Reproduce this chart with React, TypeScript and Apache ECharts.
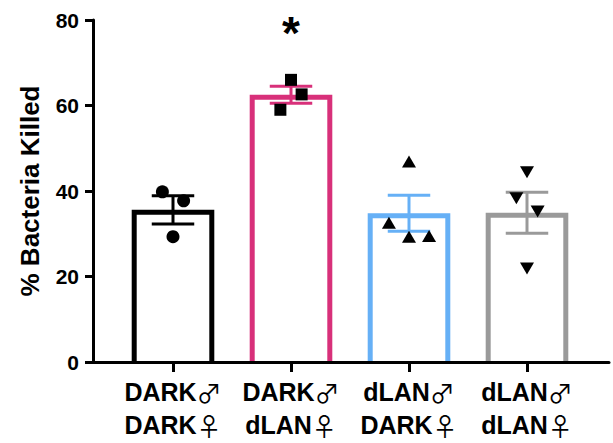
import React, { useEffect, useRef } from "react";
import * as echarts from "echarts";

const categories = ["DARK♂\nDARK♀", "DARK♂\ndLAN♀", "dLAN♂\nDARK♀", "dLAN♂\ndLAN♀"];
const means = [35.6, 62.5, 34.8, 34.9];
const sems = [3.3, 2.0, 4.2, 4.8];
const significance = ["", "*", "", ""];
const sigLevel = 77;

const darkDarkValues = [39.8, 37.7, 29.3];
const darkDarkJitter = [-0.09, 0.09, 0];
const darkDlanValues = [66.0, 62.6, 59.0];
const darkDlanJitter = [0, 0.09, -0.09];
const dlanDarkValues = [46.9, 32.6, 29.3, 29.5];
const dlanDarkJitter = [0, -0.17, 0, 0.17];
const dlanDlanValues = [44.4, 38.3, 35.2, 21.9];
const dlanDlanJitter = [0, -0.09, 0.09, 0];

const colors = ["#000000", "#d8307a", "#66b0f6", "#9a9a9a"];
const FONT = "Liberation Sans";

export default function App() {
  const ref = useRef<HTMLDivElement>(null);
  useEffect(() => {
    if (!ref.current) return;
    const chart = echarts.init(ref.current, null, { renderer: "svg" });
    const pts = (vals: number[], jit: number[], idx: number) =>
      vals.map((v, k) => [idx + jit[k], v]);
    const scatterBase = {
      type: "scatter",
      xAxisIndex: 2,
      yAxisIndex: 1,
      itemStyle: { color: "#000", opacity: 1 },
      z: 5,
    };
    const option: any = {
      animation: false,
      backgroundColor: "#fff",
      grid: [
        { left: 93, right: 4, top: 20, bottom: 81 },
        { left: 114, right: 27, top: 20, bottom: 81 },
      ],
      xAxis: [
        {
          type: "value",
          gridIndex: 0,
          min: 0,
          max: 1,
          z: 10,
          axisLine: { show: true, lineStyle: { color: "#000", width: 3 } },
          axisTick: { show: false },
          axisLabel: { show: false },
          splitLine: { show: false },
        },
        {
          type: "category",
          gridIndex: 1,
          data: categories,
          z: 10,
          axisLine: { show: false },
          axisTick: { show: true, alignWithLabel: true, length: 10, lineStyle: { color: "#000", width: 3 } },
          axisLabel: {
            margin: 13,
            formatter: (val: string) =>
              val
                .split("\n")
                .map((line) => `{b|${line.slice(0, -1)}}{s|${line.slice(-1)}}`)
                .join("\n"),
            rich: {
              b: { fontFamily: FONT, fontWeight: "bold", fontSize: 25, color: "#000", lineHeight: 33 },
              s: { fontFamily: "Noto Sans CJK JP", fontWeight: "normal", fontSize: 25, color: "#000", lineHeight: 33 },
            },
          },
        },
        {
          type: "value",
          gridIndex: 1,
          min: -0.5,
          max: 3.5,
          show: false,
        },
      ],
      yAxis: [
        {
          type: "value",
          gridIndex: 0,
          min: 0,
          max: 80,
          interval: 20,
          z: 10,
          axisLine: { show: true, lineStyle: { color: "#000", width: 3 } },
          axisTick: { show: true, length: 8, lineStyle: { color: "#000", width: 3 } },
          axisLabel: {
            margin: 14,
            fontFamily: FONT,
            fontWeight: "bold",
            fontSize: 21,
            color: "#000",
          },
          splitLine: { show: false },
          name: "% Bacteria Killed",
          nameLocation: "middle",
          nameGap: 50,
          nameTextStyle: { fontFamily: FONT, fontWeight: "bold", fontSize: 26, color: "#000" },
        },
        {
          type: "value",
          gridIndex: 1,
          min: 0,
          max: 80,
          show: false,
        },
      ],
      series: [
        {
          type: "custom",
          xAxisIndex: 1,
          yAxisIndex: 1,
          z: 2,
          data: means.map((m, i) => [i, m]),
          renderItem: (params: any, api: any) => {
            const i = api.value(0);
            const v = api.value(1);
            const base = api.coord([i, 0]);
            const top = api.coord([i, v]);
            const band = api.size([1, 0])[0];
            const outer = band * 0.7;
            const bw = 5;
            const xl = base[0] - outer / 2 + bw / 2;
            const xr = base[0] + outer / 2 - bw / 2;
            const yt = top[1] + bw / 2;
            return {
              type: "polyline",
              shape: { points: [[xl, base[1]], [xl, yt], [xr, yt], [xr, base[1]]] },
              style: { stroke: colors[i], lineWidth: bw, fill: null, lineJoin: "miter" },
            };
          },
        },
        {
          type: "custom",
          xAxisIndex: 1,
          yAxisIndex: 1,
          z: 3,
          data: means.map((m, i) => [i, m, sems[i]]),
          renderItem: (params: any, api: any) => {
            const i = api.value(0);
            const m = api.value(1);
            const s = api.value(2);
            const hi = api.coord([i, m + s]);
            const lo = api.coord([i, m - s]);
            const band = api.size([1, 0])[0];
            const cap = band * 0.18;
            const st = { stroke: colors[i], lineWidth: 3 };
            const children: any[] = [
              { type: "line", shape: { x1: hi[0], y1: hi[1], x2: lo[0], y2: lo[1] }, style: st },
              { type: "line", shape: { x1: hi[0] - cap, y1: hi[1], x2: hi[0] + cap, y2: hi[1] }, style: st },
              { type: "line", shape: { x1: lo[0] - cap, y1: lo[1], x2: lo[0] + cap, y2: lo[1] }, style: st },
            ];
            if (significance[i]) {
              const p = api.coord([i, sigLevel]);
              children.push({
                type: "text",
                x: p[0],
                y: p[1],
                style: {
                  text: significance[i],
                  fontFamily: FONT,
                  fontWeight: "bold",
                  fontSize: 46,
                  fill: "#000",
                  align: "center",
                  verticalAlign: "middle",
                },
              });
            }
            return { type: "group", children };
          },
        },
        { ...scatterBase, symbol: "circle", symbolSize: 13, data: pts(darkDarkValues, darkDarkJitter, 0) },
        { ...scatterBase, symbol: "rect", symbolSize: 12, data: pts(darkDlanValues, darkDlanJitter, 1) },
        { ...scatterBase, symbol: "triangle", symbolSize: [14, 12], data: pts(dlanDarkValues, dlanDarkJitter, 2) },
        {
          ...scatterBase,
          symbol: "triangle",
          symbolRotate: 180,
          symbolSize: [14, 12],
          data: pts(dlanDlanValues, dlanDlanJitter, 3),
        },
      ],
    };
    chart.setOption(option);
    return () => chart.dispose();
  }, []);
  return (
    <div
      ref={ref}
      style={{ position: "fixed", left: 0, top: 0, width: 613, height: 443, background: "#fff" }}
    />
  );
}
